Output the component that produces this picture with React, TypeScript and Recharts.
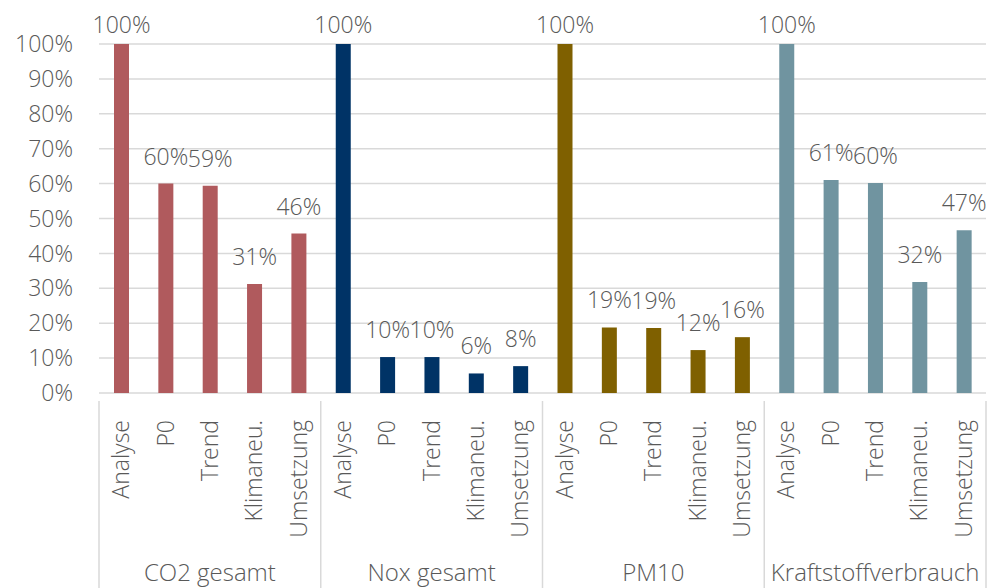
import React from 'react';
import { BarChart, Bar, XAxis, YAxis, CartesianGrid, Cell, LabelList } from 'recharts';

const groups = ['CO2 gesamt', 'Nox gesamt', 'PM10', 'Kraftstoffverbrauch'];
const categories = ['Analyse', 'P0', 'Trend', 'Klimaneu.', 'Umsetzung'];
const co2Values = [1.0, 0.6, 0.594, 0.312, 0.457];
const noxValues = [1.0, 0.103, 0.103, 0.056, 0.077];
const pm10Values = [1.0, 0.188, 0.186, 0.123, 0.16];
const kraftValues = [1.0, 0.61, 0.602, 0.318, 0.466];
const groupColors = ['#b05a5d', '#003366', '#7f6000', '#7094a0'];
const yTicks = [0, 0.1, 0.2, 0.3, 0.4, 0.5, 0.6, 0.7, 0.8, 0.9, 1.0];

const seriesValues = [co2Values, noxValues, pm10Values, kraftValues];

const data = groups.flatMap((g, gi) =>
  categories.map((c, ci) => ({
    id: `${gi}-${ci}`,
    cat: c,
    group: g,
    gi,
    ci,
    value: seriesValues[gi][ci],
  }))
);

const W = 993;
const H = 588;
const M = { top: 44, right: 7, left: 0, bottom: 0 };
const Y_W = 99;
const X_H = 195;
const N = data.length;
const BAND = (W - M.left - M.right - Y_W) / N;
const FONT = "'Open Sans', sans-serif";
const FW = 300;
const TXT = '#595959';
const LINE = '#d9d9d9';
const FS = 23;
const FS_G = 24;

const pct = (v: number) => `${Math.round(v * 100)}%`;

const XTick = (props: any) => {
  const { x, y, index } = props;
  const d = data[index];
  const els: any[] = [];
  const bottom = H;
  if (d.ci === 0) {
    els.push(<line key="l" x1={x - BAND / 2} x2={x - BAND / 2} y1={y} y2={bottom} stroke={LINE} strokeWidth={1.5} />);
  }
  if (index === N - 1) {
    els.push(<line key="r" x1={x + BAND / 2} x2={x + BAND / 2} y1={y} y2={bottom} stroke={LINE} strokeWidth={1.5} />);
  }
  els.push(
    <text key="t" transform={`translate(${x + 8},${y + 19}) rotate(-90)`} textAnchor="end" fill={TXT} fontSize={FS} fontWeight={FW} fontFamily={FONT}>
      {d.cat}
    </text>
  );
  if (d.ci === 2) {
    els.push(
      <text key="g" x={x} y={581} textAnchor="middle" fill={TXT} fontSize={FS_G} fontWeight={FW} fontFamily={FONT}>
        {d.group}
      </text>
    );
  }
  return <g>{els}</g>;
};

const TopLabel = (props: any) => {
  const { x, y, width, value } = props;
  const ty = Math.max(y - 19, 33);
  return (
    <text x={x + width / 2} y={ty} textAnchor="middle" fill={TXT} fontSize={FS} fontWeight={FW} fontFamily={FONT}>
      {pct(value)}
    </text>
  );
};

export default function App() {
  return (
    <div style={{ position: 'absolute', left: 0, top: 0, width: W, height: H, background: '#fff' }}>
      <BarChart width={W} height={H} data={data} margin={M}>
        <CartesianGrid vertical={false} stroke={LINE} strokeWidth={1.5} />
        <XAxis
          dataKey="id"
          height={X_H}
          interval={0}
          axisLine={false}
          tickLine={false}
          tick={<XTick />}
        />
        <YAxis
          width={Y_W}
          domain={[0, 1]}
          ticks={yTicks}
          tickFormatter={pct}
          axisLine={false}
          tickLine={false}
          tickMargin={20}
          tick={{ fill: TXT, fontSize: FS, fontWeight: FW, fontFamily: FONT }}
        />
        <Bar dataKey="value" barSize={15} isAnimationActive={false}>
          {data.map((d) => (
            <Cell key={d.id} fill={groupColors[d.gi]} />
          ))}
          <LabelList dataKey="value" content={<TopLabel />} />
        </Bar>
      </BarChart>
    </div>
  );
}
